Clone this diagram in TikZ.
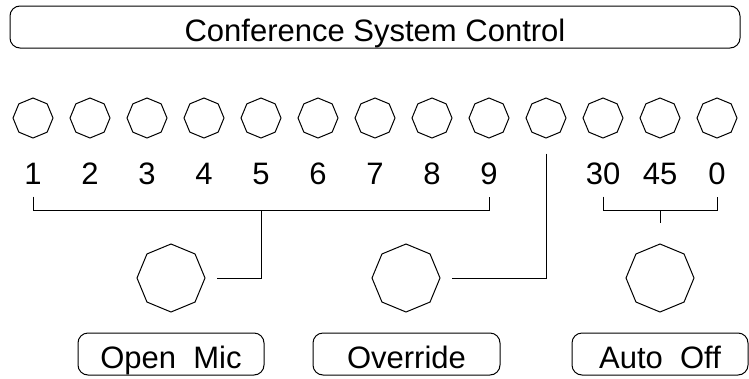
\documentclass[tikz,border=0pt]{standalone}
\usepackage{fontspec}
\setmainfont{Liberation Sans}
\usetikzlibrary{shapes.geometric,positioning}

\tikzset{
  knob/.style={regular polygon,regular polygon sides=8,shape border rotate=22.5,
    draw,inner sep=0pt,minimum size=40pt},
  bigknob/.style={knob,minimum size=68pt},
  panel/.style={draw,rounded corners=10pt,inner sep=0pt,minimum height=42pt,
    text height=28pt,text depth=0pt,font=\fontsize{31pt}{36pt}\selectfont},
  num/.style={inner sep=0pt,text height=22pt,text depth=0pt,
    font=\fontsize{31pt}{36pt}\selectfont}
}

\begin{document}
\begin{tikzpicture}[x=1pt,y=-1pt,line width=1pt]
      \useasboundingbox (0,0) rectangle (749,378);
      \node[panel,minimum width=730pt] (title) at (375,27) {Conference System Control};

      \foreach \i in {1,...,13}
        \node[knob] (k\i) at ({33+57*(\i-1)},118) {};
      \foreach \i in {1,...,9}
        \node[num,below=23pt of k\i] (l\i) {\i};
      \node[num,below=23pt of k11] (l30) {30};
      \node[num,below=23pt of k12] (l45) {45};
      \node[num,below=23pt of k13] (l0) {0};

      \node[bigknob] (openknob) at (171,278) {};
      \node[bigknob] (overknob) at (406,278) {};
      \node[bigknob] (autoknob) at (660,278) {};

      \node[panel,minimum width=186pt] (open) at (171,354) {Open\ \ Mic};
      \node[panel,minimum width=187pt] (over) at (406.5,354) {Override};
      \node[panel,minimum width=176pt] (auto) at (660,354) {Auto\ \ Off};

      \draw ([yshift=-12pt]l1.south) -- ([yshift=-26pt]l1.south)
        -- ([yshift=-26pt]l9.south) -- ([yshift=-12pt]l9.south);
      \draw ([yshift=-26pt]l5.south) |- ([xshift=11pt]openknob.east);
      \draw ([yshift=-15pt]k10.south) |- ([xshift=11pt]overknob.east);
      \draw ([yshift=-12pt]l30.south) -- ([yshift=-26pt]l30.south)
        -- ([yshift=-26pt]l0.south) -- ([yshift=-12pt]l0.south);
      \draw ([yshift=-26pt]l45.south) -- ([yshift=20pt]autoknob.north);
\end{tikzpicture}
\end{document}
